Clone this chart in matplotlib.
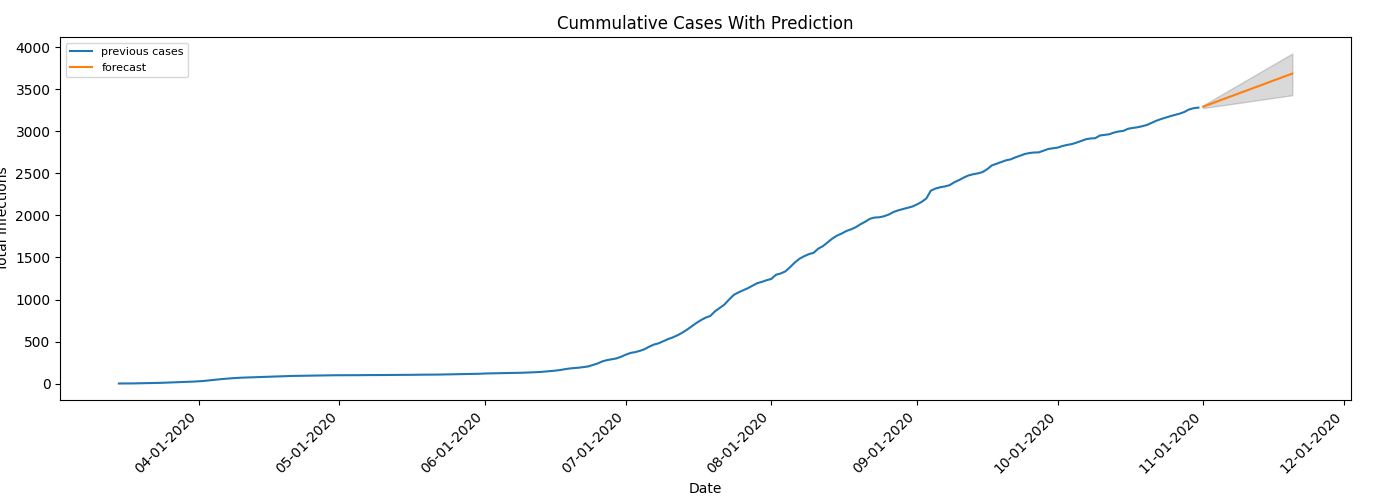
import numpy as np
import pandas as pd
import matplotlib
matplotlib.use("Agg")
import matplotlib.pyplot as plt
import matplotlib.dates as mdates

################################################
################## DATA ########################
################################################

start_date = "2020-03-15"
forecast_start = "2020-11-01"

# cumulative cases, one value per day (Mar 15 .. Oct 31)
cases_mar = [2, 2, 3, 3, 4, 5, 6, 7, 9, 10, 12, 14, 16, 18, 20, 22, 25]
cases_apr = [28, 32, 38, 45, 50, 55, 60, 64, 68, 71, 73, 75, 77, 79, 81,
             83, 85, 87, 89, 91, 92, 93, 94, 95, 96, 97, 98, 98, 99, 100]
cases_may = [100, 100, 101, 101, 101, 102, 102, 102, 103, 103, 103, 104, 104,
             104, 105, 105, 106, 106, 107, 107, 108, 108, 109, 110, 111, 112,
             113, 114, 115, 116, 118]
cases_jun = [121, 122, 123, 124, 125, 126, 127, 128, 130, 132, 134, 137, 140,
             145, 150, 155, 162, 172, 180, 186, 190, 198, 205, 222, 240, 265,
             280, 290, 300, 320]
cases_jul = [345, 365, 375, 390, 410, 440, 465, 480, 505, 530, 550, 575, 605,
             640, 680, 720, 755, 785, 805, 860, 900, 940, 1000, 1055, 1085,
             1110, 1135, 1165, 1195, 1210, 1230]
cases_aug = [1245, 1295, 1310, 1335, 1385, 1440, 1485, 1515, 1540, 1555, 1605,
             1635, 1680, 1725, 1760, 1785, 1815, 1835, 1860, 1895, 1925, 1960,
             1975, 1978, 1990, 2010, 2040, 2060, 2075, 2090, 2105]
cases_sep = [2130, 2160, 2200, 2295, 2320, 2335, 2345, 2360, 2395, 2420, 2450,
             2475, 2490, 2500, 2515, 2550, 2595, 2615, 2635, 2655, 2667, 2690,
             2710, 2730, 2742, 2748, 2750, 2770, 2790, 2798]
cases_oct = [2806, 2825, 2838, 2848, 2865, 2885, 2905, 2915, 2918, 2950, 2958,
             2965, 2985, 2998, 3005, 3030, 3040, 3048, 3060, 3075, 3100, 3125,
             3145, 3163, 3180, 3195, 3210, 3230, 3260, 3275, 3282]

# forecast (Nov 1 .. Nov 20) with confidence band
forecast = [3293, 3314, 3334, 3355, 3376, 3397, 3417, 3438, 3459, 3479,
            3500, 3521, 3541, 3562, 3583, 3604, 3624, 3645, 3666, 3686]
upper = [3310, 3342, 3375, 3407, 3440, 3472, 3504, 3537, 3569, 3602,
         3634, 3666, 3699, 3731, 3764, 3796, 3828, 3861, 3893, 3925]
lower = [3276, 3284, 3292, 3300, 3308, 3316, 3324, 3332, 3340, 3348,
         3357, 3365, 3373, 3381, 3389, 3397, 3405, 3413, 3421, 3429]

cases = (cases_mar + cases_apr + cases_may + cases_jun + cases_jul
         + cases_aug + cases_sep + cases_oct)
dates = pd.date_range(start_date, periods=len(cases), freq="D")
fc_dates = pd.date_range(forecast_start, periods=len(forecast), freq="D")

################################################
################## PLOT ########################
################################################

fig = plt.figure(figsize=(14, 5), dpi=100)
ax = fig.add_axes([0.043, 0.2, 0.922, 0.726])

ax.plot(dates, cases, label="previous cases")
ax.plot(fc_dates, forecast, label="forecast")
ax.fill_between(fc_dates, lower, upper, color="k", alpha=.15)

ax.xaxis.set_major_locator(mdates.MonthLocator())
ax.xaxis.set_major_formatter(mdates.DateFormatter("%m-%d-%Y"))
plt.setp(ax.get_xticklabels(), rotation=45, ha="right")

ax.set_title("Cummulative Cases With Prediction")
ax.set_xlabel("Date")
ax.set_ylabel("Total Infections")
ax.legend(loc="upper left", fontsize=8)

plt.savefig("out.png")
